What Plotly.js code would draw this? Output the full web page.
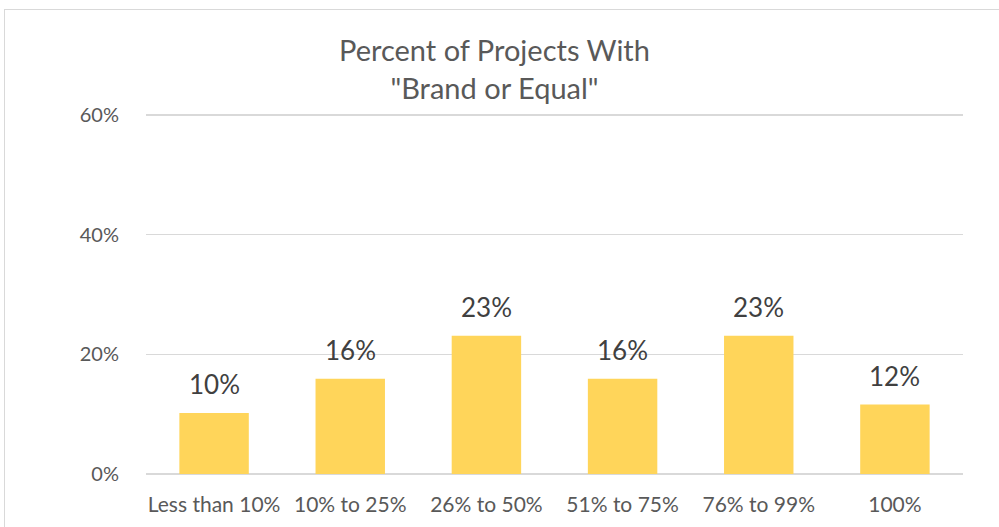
<!DOCTYPE html>
<html>
<head>
<meta charset="utf-8">
<script src="https://cdn.plot.ly/plotly-3.0.1.min.js"></script>
<style>
html,body{margin:0;padding:0;background:#fff;}
#wrap{position:relative;width:999px;height:527px;overflow:hidden;}
#chart{position:absolute;left:0;top:0;width:999px;height:527px;}
#frame{position:absolute;left:4px;top:9px;width:1100px;height:600px;border:1px solid #D9D9D9;pointer-events:none;}
</style>
</head>
<body>
<div id="wrap"><div id="chart"></div><div id="frame"></div></div>
<script>
const categories = ["Less than 10%", "10% to 25%", "26% to 50%", "51% to 75%", "76% to 99%", "100%"];
const values = [0.102, 0.159, 0.231, 0.159, 0.231, 0.116];
const yTicks = [0, 0.2, 0.4, 0.6];
const yTickLabels = ["0%", "20%", "40%", "60%"];

const FONT = "Lato, 'Open Sans', sans-serif";
const TXT = "#595959";

const trace = {
  type: "bar",
  x: categories,
  y: values,
  marker: {color: "#FFD55A"},
  hoverinfo: "skip"
};

const annotations = categories.map((c, i) => ({
  x: c, y: values[i], xref: "x", yref: "y",
  text: Math.round(values[i] * 100) + "%",
  showarrow: false, yanchor: "bottom", yshift: 11,
  font: {family: FONT, size: 26, color: "#404040"}
}));

const layout = {
  width: 999, height: 527,
  margin: {l: 146, r: 36, t: 109, b: 53},
  paper_bgcolor: "#fff", plot_bgcolor: "#fff",
  bargap: 0.49,
  showlegend: false,
  title: {
    text: "Percent of Projects With<br>\"Brand or Equal\"",
    font: {family: FONT, size: 29, color: TXT},
    x: 0.495, xanchor: "center", y: 0.884, yanchor: "top"
  },
  xaxis: {
    type: "category",
    tickfont: {family: FONT, size: 21, color: TXT},
    ticks: "outside", ticklen: 12, tickcolor: "rgba(0,0,0,0)",
    showgrid: false, showline: false, zeroline: false
  },
  yaxis: {
    range: [0, 0.61],
    tickvals: yTicks, ticktext: yTickLabels,
    tickfont: {family: FONT, size: 20, color: TXT},
    ticks: "outside", ticklen: 22, tickcolor: "rgba(0,0,0,0)",
    showgrid: true, gridcolor: "#D9D9D9", gridwidth: 1.5,
    zeroline: true, zerolinecolor: "#D9D9D9", zerolinewidth: 2,
    showline: false
  },
  annotations: annotations
};

Plotly.newPlot("chart", [trace], layout, {displayModeBar: false, staticPlot: true});
</script>
</body>
</html>
